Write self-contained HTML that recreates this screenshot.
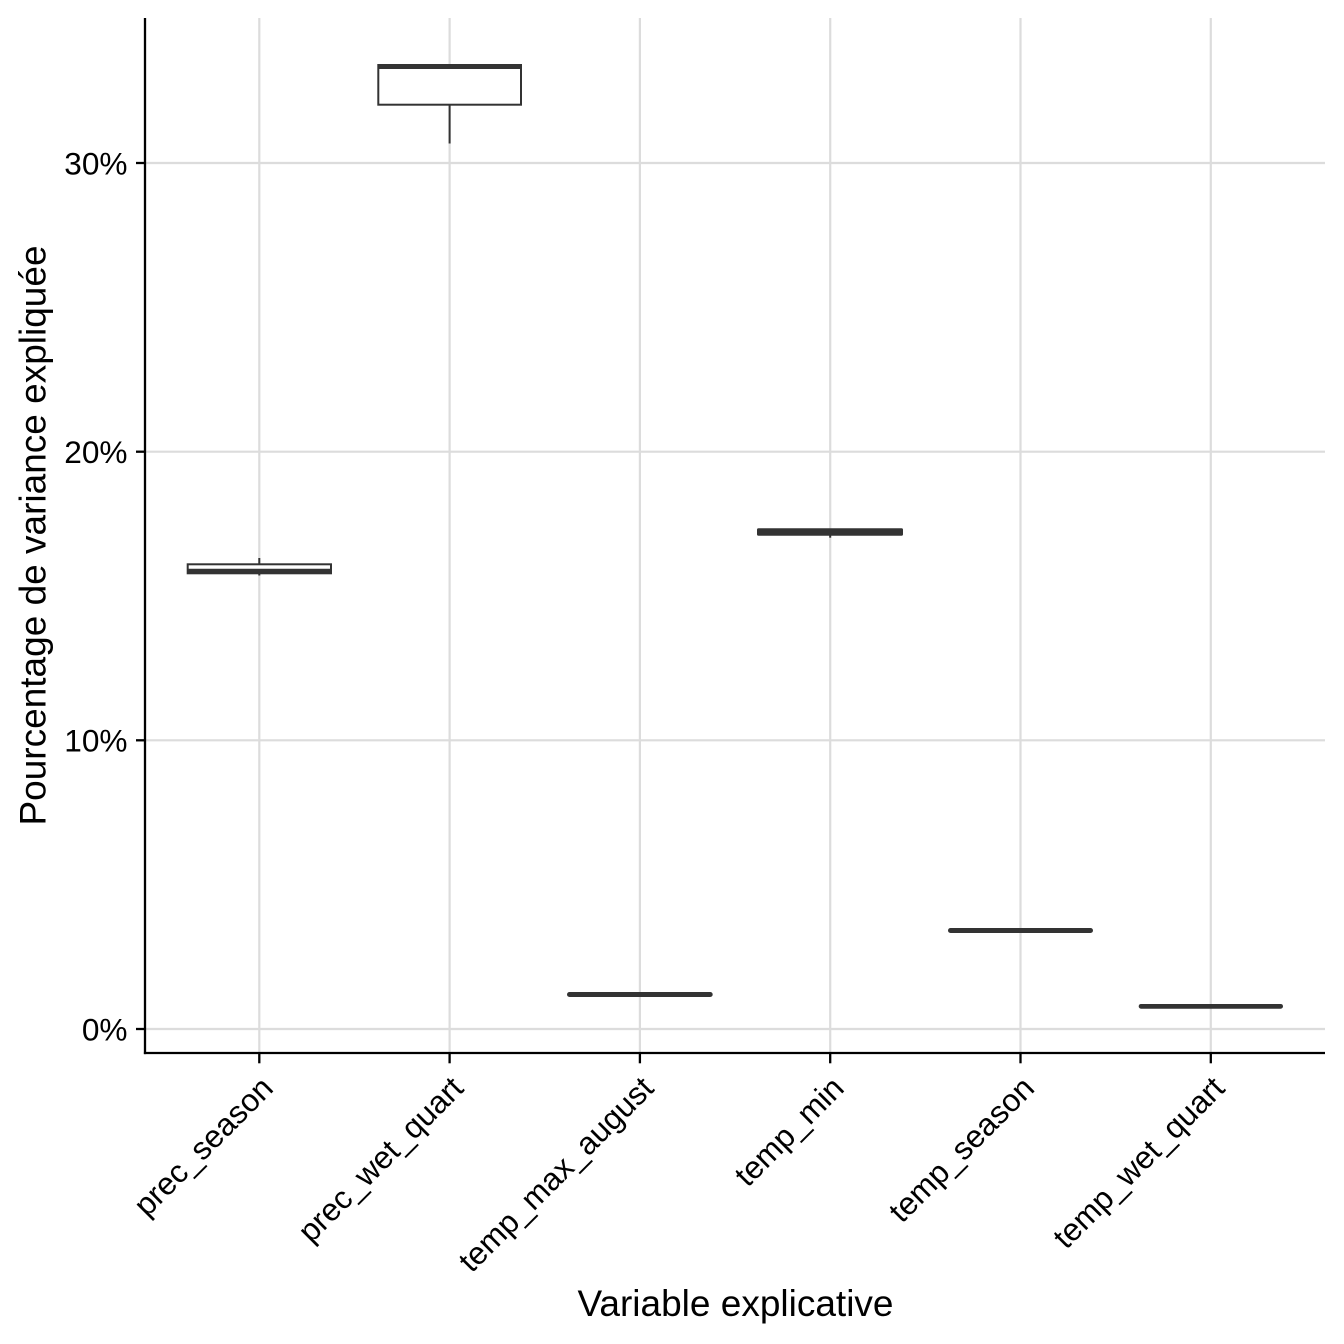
<!DOCTYPE html>
<html>
<head>
<meta charset="utf-8">
<style>
html,body{margin:0;padding:0;background:#fff;}
svg{display:block;}
text{font-family:"Liberation Sans",Arial,Helvetica,sans-serif;fill:#000;}
</style>
</head>
<body>
<svg width="1344" height="1344" viewBox="0 0 1344 1344" xmlns="http://www.w3.org/2000/svg">
<rect width="1344" height="1344" fill="#fff"/>
<!-- gridlines -->
<g stroke="#DCDCDC" stroke-width="2.2">
<line x1="145" y1="163" x2="1325" y2="163"/>
<line x1="145" y1="451.7" x2="1325" y2="451.7"/>
<line x1="145" y1="740.3" x2="1325" y2="740.3"/>
<line x1="145" y1="1029" x2="1325" y2="1029"/>
<line x1="259.3" y1="18" x2="259.3" y2="1053"/>
<line x1="449.6" y1="18" x2="449.6" y2="1053"/>
<line x1="639.9" y1="18" x2="639.9" y2="1053"/>
<line x1="830.2" y1="18" x2="830.2" y2="1053"/>
<line x1="1020.5" y1="18" x2="1020.5" y2="1053"/>
<line x1="1210.8" y1="18" x2="1210.8" y2="1053"/>
</g>
<!-- boxes -->
<g stroke="#333333" fill="#fff">
<!-- prec_season -->
<line x1="259.3" y1="558" x2="259.3" y2="564" stroke-width="2"/>
<line x1="259.3" y1="573" x2="259.3" y2="575.5" stroke-width="2"/>
<rect x="187.7" y="564.3" width="143.3" height="9" stroke-width="2"/>
<line x1="187.7" y1="570.7" x2="331" y2="570.7" stroke-width="4"/>
<!-- prec_wet_quart -->
<line x1="449.6" y1="105" x2="449.6" y2="143.5" stroke-width="2"/>
<rect x="378.3" y="65" width="142.7" height="39.7" stroke-width="2"/>
<line x1="378.3" y1="67" x2="521" y2="67" stroke-width="4"/>
<!-- temp_min -->
<line x1="830.2" y1="533" x2="830.2" y2="537.7" stroke-width="2"/>
</g>
<g fill="#333333">
<rect x="757" y="528.3" width="146" height="7.4" rx="1.5"/>
<rect x="567" y="992" width="145.7" height="5" rx="2.5"/>
<rect x="948" y="928" width="145" height="5" rx="2.5"/>
<rect x="1138.7" y="1004" width="144.3" height="4.7" rx="2.3"/>
</g>
<!-- axes -->
<g stroke="#000" stroke-width="2.3">
<line x1="145" y1="18" x2="145" y2="1054.1"/>
<line x1="143.9" y1="1053" x2="1325" y2="1053"/>
<line x1="136" y1="163" x2="145" y2="163"/>
<line x1="136" y1="451.7" x2="145" y2="451.7"/>
<line x1="136" y1="740.3" x2="145" y2="740.3"/>
<line x1="136" y1="1029" x2="145" y2="1029"/>
<line x1="259.3" y1="1053" x2="259.3" y2="1063.3"/>
<line x1="449.6" y1="1053" x2="449.6" y2="1063.3"/>
<line x1="639.9" y1="1053" x2="639.9" y2="1063.3"/>
<line x1="830.2" y1="1053" x2="830.2" y2="1063.3"/>
<line x1="1020.5" y1="1053" x2="1020.5" y2="1063.3"/>
<line x1="1210.8" y1="1053" x2="1210.8" y2="1063.3"/>
</g>
<!-- y tick labels -->
<g font-size="31.6" text-anchor="end">
<text x="127.5" y="174.3">30%</text>
<text x="127.5" y="463">20%</text>
<text x="127.5" y="751.6">10%</text>
<text x="127.5" y="1040.3">0%</text>
</g>
<!-- x tick labels -->
<g font-size="31.6" text-anchor="end">
<text transform="translate(274.8,1090) rotate(-45)">prec_season</text>
<text transform="translate(465.1,1090) rotate(-45)">prec_wet_quart</text>
<text transform="translate(655.4,1090) rotate(-45)">temp_max_august</text>
<text transform="translate(845.7,1090) rotate(-45)">temp_min</text>
<text transform="translate(1036,1090) rotate(-45)">temp_season</text>
<text transform="translate(1226.3,1090) rotate(-45)">temp_wet_quart</text>
</g>
<!-- axis titles -->
<text x="735.5" y="1316" font-size="37" text-anchor="middle">Variable explicative</text>
<text transform="translate(45.5,535.5) rotate(-90)" font-size="37" text-anchor="middle">Pourcentage de variance expliquée</text>
</svg>
</body>
</html>
